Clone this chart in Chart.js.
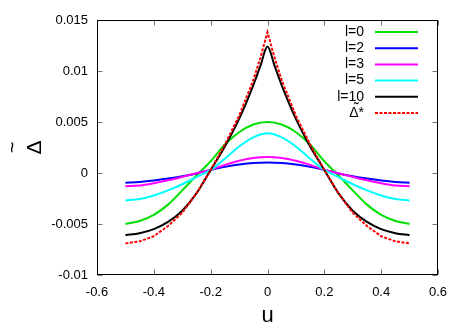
<!DOCTYPE html>
<html>
<head>
<meta charset="utf-8">
<script src="https://cdn.jsdelivr.net/npm/chart.js@4.4.0/dist/chart.umd.min.js"></script>
<style>
  html, body { margin: 0; padding: 0; background: #fff; }
</style>
</head>
<body>
<canvas id="myChart" width="467" height="327"></canvas>
<script>
// u values of the sampled points
const uCoarse = [-0.5, -0.45, -0.4, -0.35, -0.3, -0.25, -0.2, -0.15, -0.1, -0.05, 0,
                 0.05, 0.1, 0.15, 0.2, 0.25, 0.3, 0.35, 0.4, 0.45, 0.5]
const uFine = [-0.5, -0.45, -0.4, -0.35, -0.3, -0.25, -0.2, -0.15, -0.1, -0.05, -0.025, 0,
               0.025, 0.05, 0.1, 0.15, 0.2, 0.25, 0.3, 0.35, 0.4, 0.45, 0.5]

// series
const l0 = [-0.0050, -0.0047, -0.0041, -0.0031, -0.0017, -0.00025, 0.00115, 0.0028, 0.0040, 0.00475, 0.0050,
            0.00475, 0.0040, 0.0028, 0.00115, -0.00025, -0.0017, -0.0031, -0.0041, -0.0047, -0.0050]
const l2 = [-0.00095, -0.00088, -0.00074, -0.00055, -0.00032, -0.00004, 0.0003, 0.0006, 0.00083, 0.00099, 0.00104,
            0.00099, 0.00083, 0.0006, 0.0003, -0.00004, -0.00032, -0.00055, -0.00074, -0.00088, -0.00095]
const l3 = [-0.0013, -0.00122, -0.001, -0.00072, -0.00038, -0.00002, 0.00032, 0.0008, 0.0012, 0.00148, 0.00157,
            0.00148, 0.0012, 0.0008, 0.00032, -0.00002, -0.00038, -0.00072, -0.001, -0.00122, -0.0013]
const l5 = [-0.0027, -0.00255, -0.0022, -0.0017, -0.0011, -0.0004, 0.0003, 0.0014, 0.0026, 0.0035, 0.0039,
            0.0035, 0.0026, 0.0014, 0.0003, -0.0004, -0.0011, -0.0017, -0.0022, -0.00255, -0.0027]
const l10 = [-0.0061, -0.0059, -0.0055, -0.0048, -0.0037, -0.0020, 0.0003, 0.0026, 0.0053, 0.0086, 0.0105, 0.0124,
             0.0105, 0.0086, 0.0053, 0.0026, 0.0003, -0.0020, -0.0037, -0.0048, -0.0055, -0.0059, -0.0061]
const deltaStar = [-0.0069, -0.0067, -0.0062, -0.0052, -0.0039, -0.0020, 0.0003, 0.0028, 0.0056, 0.0091, 0.0113, 0.0138,
                   0.0113, 0.0091, 0.0056, 0.0028, 0.0003, -0.0020, -0.0039, -0.0052, -0.0062, -0.0067, -0.0069]

const seriesLabels = ['l=0', 'l=2', 'l=3', 'l=5', 'l=1\u03300', '\u0394*']

const xTickValues = [-0.6, -0.4, -0.2, 0, 0.2, 0.4, 0.6]
const xTickLabels = ['-0.6', '-0.4', '-0.2', '0', '0.2', '0.4', '0.6']
const yTickValues = [-0.01, -0.005, 0, 0.005, 0.01, 0.015]
const yTickLabels = ['-0.01', '-0.005', '0', '0.005', '0.01', '0.015']

const FONT = '"Liberation Sans", Arial, Helvetica, sans-serif'

function pairs(xs, ys) {
    return xs.map((x, i) => ({x: x, y: ys[i]}))
}

function line(label, xs, ys, color, order, extra) {
    return Object.assign({
        label: label,
        data: pairs(xs, ys),
        borderColor: color,
        backgroundColor: color,
        borderWidth: 2,
        pointRadius: 0,
        fill: false,
        cubicInterpolationMode: 'monotone',
        order: order
    }, extra || {})
}

// gnuplot style frame, inward ticks on all four sides, legend and y title
const framePlugin = {
    id: 'frame',
    beforeDatasetsDraw(chart) {
        const {ctx, chartArea: a, scales} = chart
        const L = Math.round(a.left) + 0.5, R = Math.round(a.right) - 0.5
        const T = Math.round(a.top) + 0.5, B = Math.round(a.bottom) - 0.5
        ctx.save()
        ctx.strokeStyle = '#777'
        ctx.lineWidth = 1
        ctx.beginPath()
        xTickValues.forEach(v => {
            const px = Math.round(scales.x.getPixelForValue(v)) + 0.5
            ctx.moveTo(px, B); ctx.lineTo(px, B - 5)
            ctx.moveTo(px, T); ctx.lineTo(px, T + 5)
        })
        yTickValues.forEach(v => {
            const py = Math.round(scales.y.getPixelForValue(v)) + 0.5
            ctx.moveTo(L, py); ctx.lineTo(L + 5, py)
            ctx.moveTo(R, py); ctx.lineTo(R - 5, py)
        })
        ctx.stroke()
        ctx.strokeStyle = '#000'
        ctx.strokeRect(L, T, R - L, B - T)
        ctx.restore()
    },
    afterDraw(chart) {
        const {ctx, chartArea: a} = chart
        ctx.save()
        // legend
        ctx.font = '14px ' + FONT
        ctx.textAlign = 'right'
        ctx.textBaseline = 'middle'
        chart.data.datasets.forEach((ds, i) => {
            const y = a.top + 12 + i * 16.2
            ctx.fillStyle = '#000'
            ctx.fillText(ds.label, a.right - 74, y)
            ctx.strokeStyle = ds.borderColor
            ctx.lineWidth = 2
            ctx.setLineDash(ds.borderDash || [])
            ctx.beginPath()
            ctx.moveTo(a.right - 63, y)
            ctx.lineTo(a.right - 20, y)
            ctx.stroke()
        })
        ctx.setLineDash([])
        // y axis title: rotated delta with tilde
        const cy = (a.top + a.bottom) / 2
        ctx.fillStyle = '#000'
        ctx.textAlign = 'center'
        ctx.textBaseline = 'middle'
        ctx.translate(35, cy)
        ctx.rotate(-Math.PI / 2)
        ctx.font = '21px ' + FONT
        ctx.fillText('\u0394', 0, 0)
        ctx.font = '20px ' + FONT
        ctx.fillText('~', 0, -22)
        ctx.restore()
    }
}

const ctx = document.getElementById('myChart').getContext('2d')

new Chart(ctx, {
    type: 'line',
    data: {
        datasets: [
            line(seriesLabels[0], uCoarse, l0, '#00e000', 6),
            line(seriesLabels[1], uCoarse, l2, '#0000ff', 5),
            line(seriesLabels[2], uCoarse, l3, '#ff00ff', 4),
            line(seriesLabels[3], uCoarse, l5, '#00ffff', 3),
            line(seriesLabels[4], uFine, l10, '#000000', 2),
            line(seriesLabels[5], uFine, deltaStar, '#ff0000', 1,
                 {cubicInterpolationMode: 'default', tension: 0, borderDash: [3, 1.5]})
        ]
    },
    options: {
        responsive: false,
        animation: false,
        events: [],
        layout: { padding: { top: 20, right: 29, left: 0, bottom: 0 } },
        plugins: {
            legend: { display: false },
            tooltip: { enabled: false }
        },
        scales: {
            x: {
                type: 'linear',
                min: -0.6,
                max: 0.6,
                afterBuildTicks: s => { s.ticks = xTickValues.map(v => ({value: v})) },
                afterFit: s => { s.height = 52 },
                grid: { display: false, drawTicks: false },
                border: { display: false },
                ticks: {
                    padding: 10,
                    color: '#000',
                    font: { family: FONT, size: 13 },
                    maxRotation: 0,
                    callback: (v, i) => xTickLabels[i]
                },
                title: {
                    display: true,
                    text: 'u',
                    color: '#000',
                    font: { family: FONT, size: 22, lineHeight: 1 },
                    padding: { top: 0, bottom: 0 }
                }
            },
            y: {
                type: 'linear',
                min: -0.01,
                max: 0.015,
                afterBuildTicks: s => { s.ticks = yTickValues.map(v => ({value: v})) },
                afterFit: s => { s.width = 97 },
                grid: { display: false, drawTicks: false },
                border: { display: false },
                ticks: {
                    padding: 9,
                    color: '#000',
                    font: { family: FONT, size: 13 },
                    callback: (v, i) => yTickLabels[i]
                }
            }
        }
    },
    plugins: [framePlugin]
})
</script>
</body>
</html>
